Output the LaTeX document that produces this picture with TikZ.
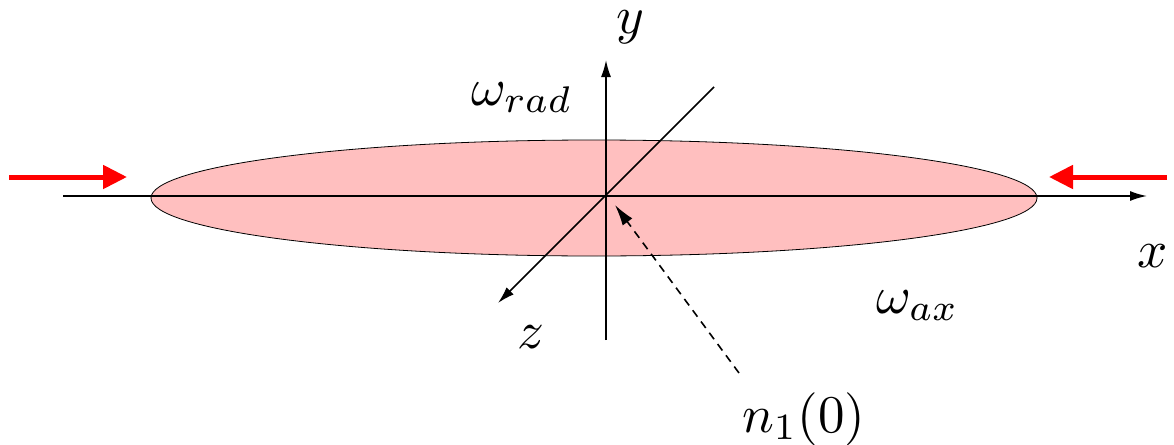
\documentclass[tikz,border=0pt]{standalone}
\usetikzlibrary{arrows.meta}
\begin{document}
\begin{tikzpicture}[x=1pt,y=-1pt,
  lbl/.style={inner sep=0pt, scale=5.3},
  axis/.style={line width=1.6pt, -{Latex[length=17pt,width=10pt]}},
  push/.style={draw=red, line width=5pt, -{Triangle[length=24pt,width=23pt]}},
  probe/.style={line width=1.6pt, dash pattern=on 8pt off 6pt, -{Latex[length=21pt,width=12pt]}},
  cloud/.style={fill=red!25, draw=black, line width=0.8pt}]
\useasboundingbox (0,0) rectangle (1174,444);
% coordinates
\coordinate (C) at (594,198);
\coordinate (O) at (606,196);
\coordinate (xs) at (63,196);
\coordinate (xe) at (1147,196);
\coordinate (ys) at (606,340);
\coordinate (ye) at (606,60);
\coordinate (zs) at (714,87);
\coordinate (ze) at (498,303);
\coordinate (pl) at (9,177);
\coordinate (plt) at (127,177);
\coordinate (pr) at (1167,177);
\coordinate (prt) at (1049,177);
\coordinate (nt) at (615,205);
% ellipse
\path[cloud] (C) ellipse [x radius=443, y radius=58];
% axes
\draw[axis] (xs) -- (xe);
\draw[axis] (ys) -- (ye);
\draw[axis] (zs) -- (ze);
% compression arrows
\draw[push] (pl) -- (plt);
\draw[push] (pr) -- (prt);
% labels
\node[lbl] (ly) at (630,27) {$y$};
\node[lbl] (lx) at (1153,256) {$x$};
\node[lbl] (lz) at (531,337) {$z$};
\node[lbl, anchor=base west] (lrad) at (470,105) {$\omega_{rad}$};
\node[lbl, anchor=base west] (lax) at (875,313) {$\omega_{ax}$};
\node[lbl, anchor=base west] (ln) at (741,432) {$n_1(0)$};
\coordinate (ns) at (739,373);
\draw[probe] (ns) -- (nt);
\end{tikzpicture}
\end{document}
